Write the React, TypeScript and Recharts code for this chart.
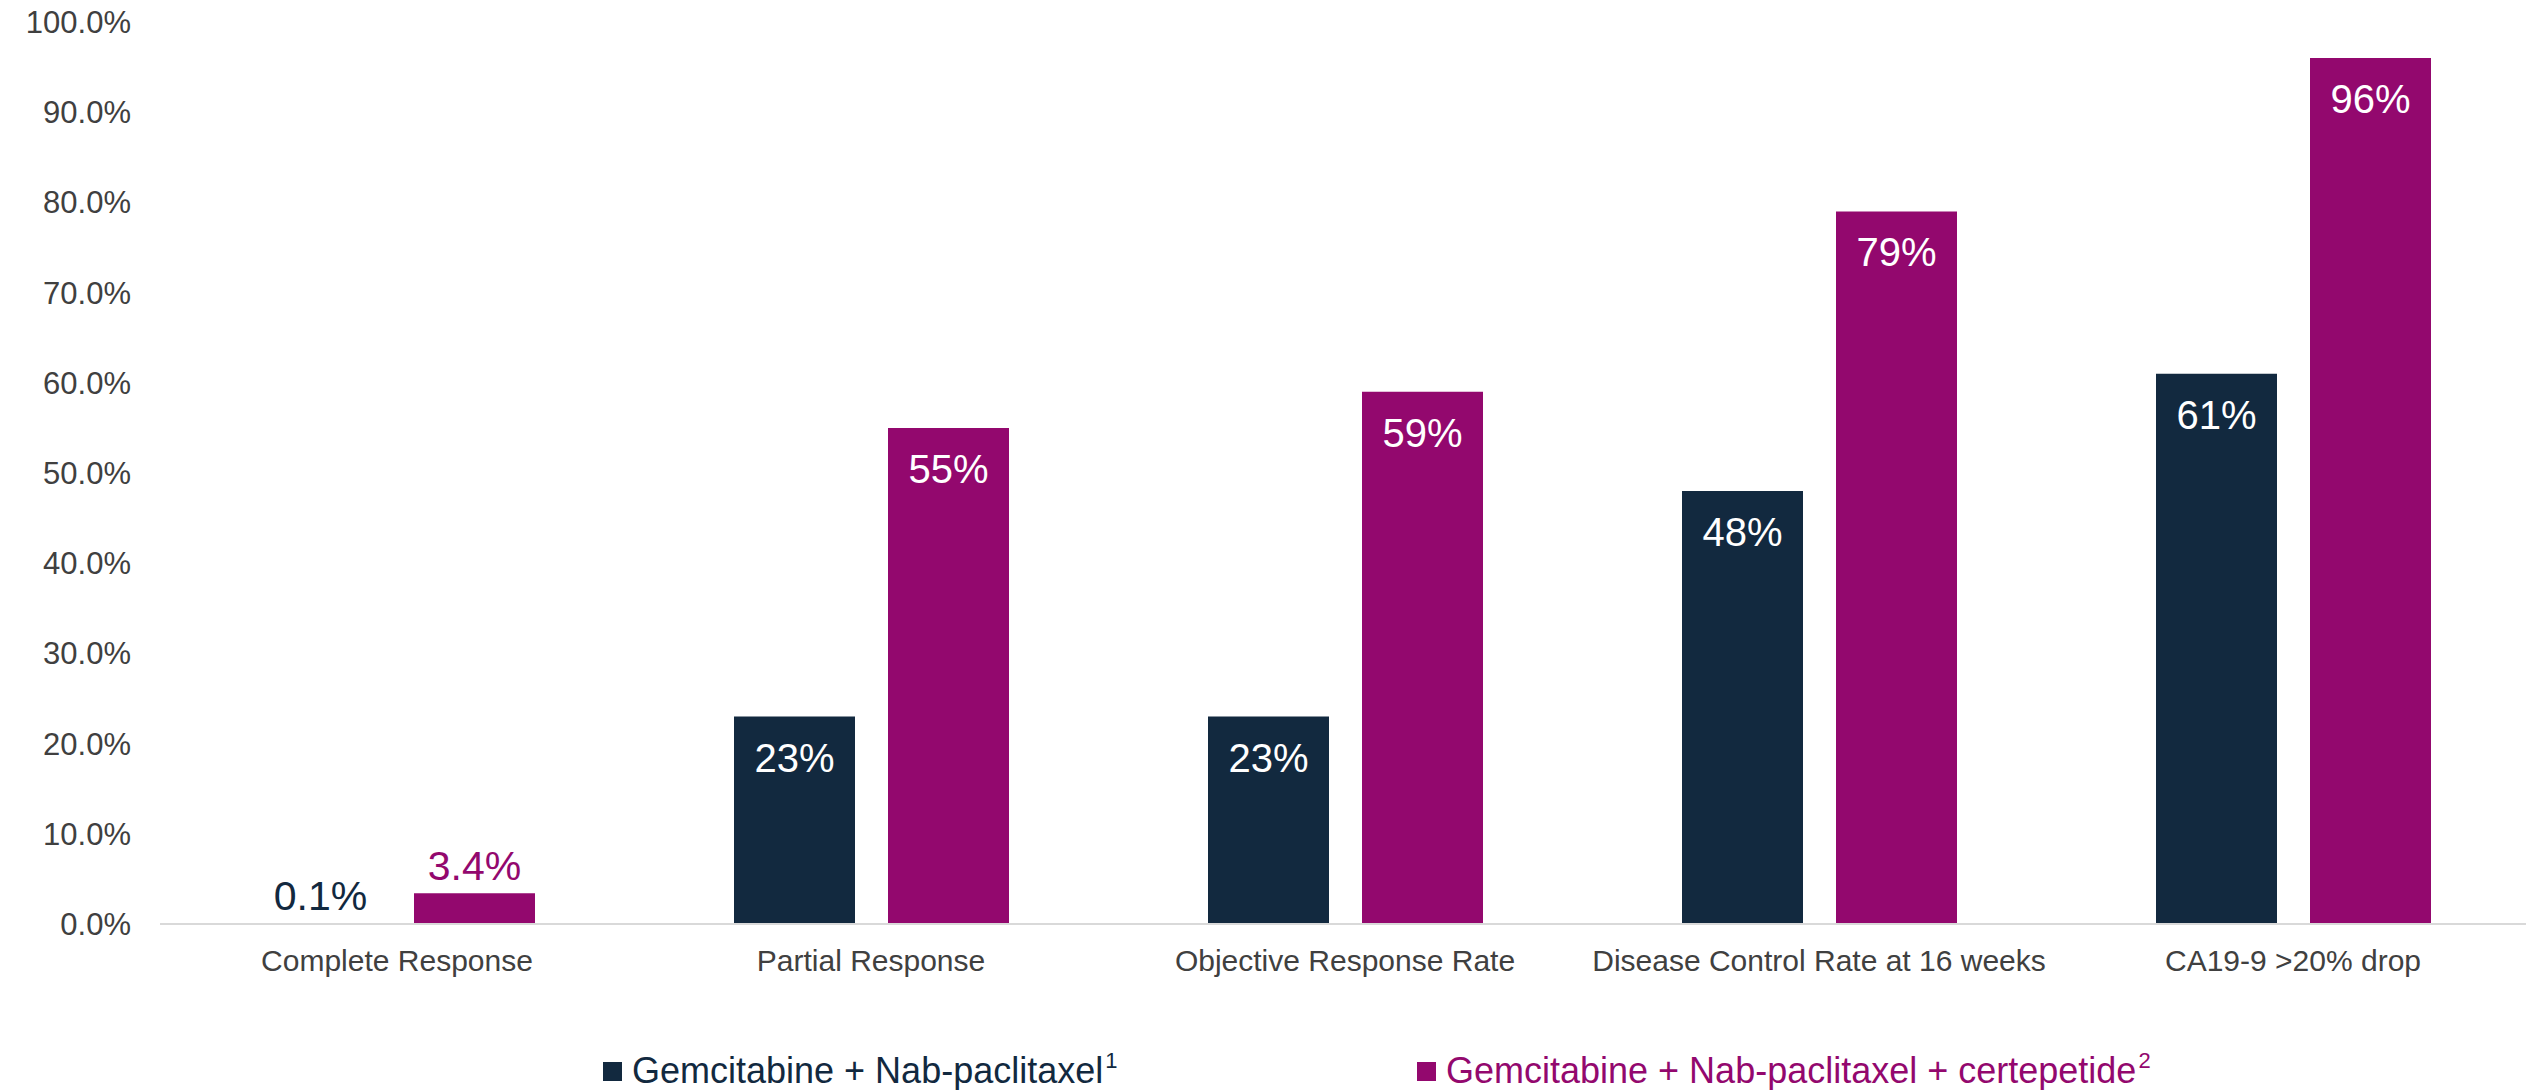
import React from 'react';
import { BarChart, Bar, XAxis, YAxis, Legend, LabelList } from 'recharts';

const categories = [
  'Complete Response',
  'Partial Response',
  'Objective Response Rate',
  'Disease Control Rate at 16 weeks',
  'CA19-9 >20% drop',
];
const gemNab = [0.1, 23, 23, 48, 61];
const gemNabCert = [3.4, 55, 59, 79, 96];
const yTicks = [0, 10, 20, 30, 40, 50, 60, 70, 80, 90, 100];
const seriesNames = ['Gemcitabine + Nab-paclitaxel', 'Gemcitabine + Nab-paclitaxel + certepetide'];
const seriesSup = ['1', '2'];

const NAVY = '#12293F';
const MAGENTA = '#93086E';
const FONT = '"Liberation Sans", Arial, sans-serif';

const data = categories.map((c, i) => ({ name: c, a: gemNab[i], b: gemNabCert[i] }));

const fmt = (v: number) => (v < 10 ? `${v.toFixed(1)}%` : `${Math.round(v)}%`);

const makeLabel = (color: string) => (props: any) => {
  const { x, y, width, value } = props;
  const cx = Number(x) + Number(width) / 2;
  if (value < 10) {
    return (
      <text x={cx} y={Number(y) - 13} textAnchor="middle" fill={color} fontSize={41} fontFamily={FONT}>
        {fmt(value)}
      </text>
    );
  }
  return (
    <text x={cx} y={Number(y) + 55} textAnchor="middle" fill="#ffffff" fontSize={40} fontFamily={FONT}>
      {fmt(value)}
    </text>
  );
};

const LegendContent = () => {
  const items = [
    { color: NAVY, sq: 603, name: seriesNames[0], sup: seriesSup[0] },
    { color: MAGENTA, sq: 1417, name: seriesNames[1], sup: seriesSup[1] },
  ];
  return (
    <div style={{ position: 'relative', width: 2526, height: 50, fontFamily: FONT }}>
      {items.map((it) => (
        <React.Fragment key={it.name}>
          <div style={{ position: 'absolute', left: it.sq, top: 16, width: 19, height: 19, background: it.color }} />
          <div
            style={{
              position: 'absolute',
              left: it.sq + 29,
              top: 0,
              height: 50,
              lineHeight: '50px',
              fontSize: 36,
              color: it.color,
              whiteSpace: 'nowrap',
            }}
          >
            {it.name}
            <sup style={{ fontSize: 22, verticalAlign: 'top', lineHeight: '30px', marginLeft: 2 }}>{it.sup}</sup>
          </div>
        </React.Fragment>
      ))}
    </div>
  );
};

export default function App() {
  return (
    <div style={{ position: 'absolute', left: 0, top: 0, width: 2526, height: 1090, background: '#fff' }}>
      <BarChart
        width={2526}
        height={1090}
        data={data}
        margin={{ top: 22, right: -4, left: 0, bottom: 36 }}
        barGap={33}
        barSize={121}
      >
        <YAxis
          width={160}
          domain={[0, 100]}
          ticks={yTicks}
          tickFormatter={(v: number) => `${v.toFixed(1)}%`}
          axisLine={false}
          tickLine={false}
          tickSize={0}
          tickMargin={29}
          tick={{ fill: '#404040', fontSize: 31, fontFamily: FONT }}
          interval={0}
        />
        <XAxis
          dataKey="name"
          height={80}
          axisLine={{ stroke: '#d9d9d9', strokeWidth: 2 }}
          tickLine={false}
          tickSize={0}
          tickMargin={26}
          tick={{ fill: '#404040', fontSize: 30, fontFamily: FONT }}
          interval={0}
        />
        <Legend
          verticalAlign="bottom"
          content={<LegendContent />}
          wrapperStyle={{ left: 0, top: 1046, width: 2526, height: 50 }}
        />
        <Bar dataKey="a" name={seriesNames[0]} fill={NAVY} isAnimationActive={false}>
          <LabelList dataKey="a" content={makeLabel(NAVY)} />
        </Bar>
        <Bar dataKey="b" name={seriesNames[1]} fill={MAGENTA} isAnimationActive={false}>
          <LabelList dataKey="b" content={makeLabel(MAGENTA)} />
        </Bar>
      </BarChart>
    </div>
  );
}
